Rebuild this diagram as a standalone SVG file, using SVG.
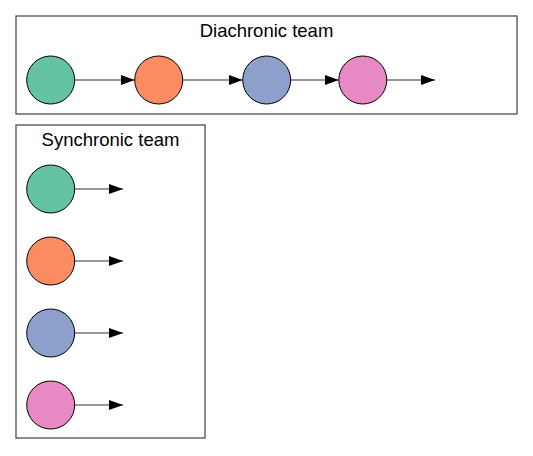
<svg xmlns="http://www.w3.org/2000/svg" width="533" height="456" viewBox="0 0 533 456">
<style>
.box{fill:#fff;stroke:#4d4d4d;stroke-width:1.3}
.title{font-family:"Liberation Sans",Arial,sans-serif;font-size:18.5px;fill:#000;text-anchor:middle}
.n{stroke:#000;stroke-width:1}
.e{stroke:#333;stroke-width:1.2;fill:none;marker-end:url(#ah)}
.c1{fill:#66c2a5}.c2{fill:#fc8d62}.c3{fill:#8da0cb}.c4{fill:#e78ac3}
</style>
<defs>
<marker id="ah" viewBox="0 0 14 10" refX="14" refY="5" markerWidth="14" markerHeight="10" markerUnits="userSpaceOnUse" orient="auto">
<path d="M0,0 L14,5 L0,10 Z" fill="#000"/>
</marker>
</defs>
<rect width="533" height="456" fill="#fff"/>
<g id="diachronic">
<rect class="box" x="16" y="16" width="501" height="98"/>
<text class="title" x="266.5" y="37">Diachronic team</text>
</g>
<g id="synchronic">
<rect class="box" x="16" y="125" width="189" height="313"/>
<text class="title" x="110.5" y="146">Synchronic team</text>
</g>
<g id="connectors">
<line class="e" x1="74.7" y1="80" x2="134.7" y2="80"/>
<line class="e" x1="182.7" y1="80" x2="242.7" y2="80"/>
<line class="e" x1="290.7" y1="80" x2="338.8" y2="80"/>
<line class="e" x1="386.8" y1="80" x2="435" y2="80"/>
<line class="e" x1="74.7" y1="189" x2="123" y2="189"/>
<line class="e" x1="74.7" y1="261" x2="123" y2="261"/>
<line class="e" x1="74.7" y1="333" x2="123" y2="333"/>
<line class="e" x1="74.7" y1="405" x2="123" y2="405"/>
</g>
<g id="d1"><circle class="n c1" cx="50.7" cy="80" r="24"/></g>
<g id="d2"><circle class="n c2" cx="158.7" cy="80" r="24"/></g>
<g id="d3"><circle class="n c3" cx="266.7" cy="80" r="24"/></g>
<g id="d4"><circle class="n c4" cx="362.8" cy="80" r="24"/></g>
<g id="s1"><circle class="n c1" cx="50.7" cy="189" r="24"/></g>
<g id="s2"><circle class="n c2" cx="50.7" cy="261" r="24"/></g>
<g id="s3"><circle class="n c3" cx="50.7" cy="333" r="24"/></g>
<g id="s4"><circle class="n c4" cx="50.7" cy="405" r="24"/></g>
</svg>
